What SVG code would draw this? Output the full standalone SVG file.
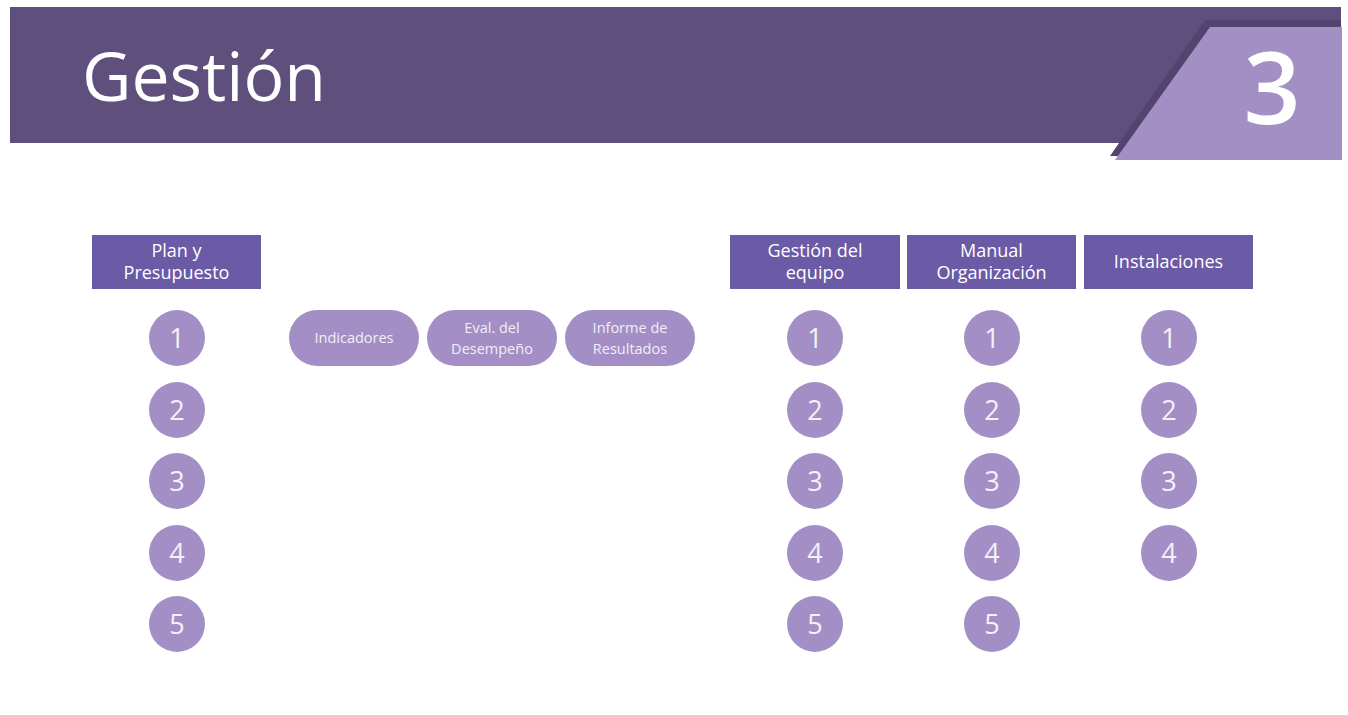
<svg xmlns="http://www.w3.org/2000/svg" width="1348" height="715" viewBox="0 0 1348 715">
<style>
text{font-family:"Open Sans","Noto Sans",sans-serif;fill:#fff;text-anchor:middle}
.hdr{fill:#6b5aa5}
.hdr-t{font-size:18px;font-weight:500}
.c{fill:#a38fc5}
.num{font-size:27px;fill:#f4f1f8}
.pill{fill:#a38fc5}
.pill-t{font-size:14.5px;font-weight:500;fill:#f1eef6}
</style>
<rect width="1348" height="715" fill="#fff"/>
<g id="banner">
<rect x="10" y="7" width="1331" height="136" fill="#5f4f7d"/>
<polygon points="1113,156 1122,143 1128,143 1120,156" fill="#d9d9d9"/>
<polygon points="1205,20 1341,20 1341,160 1110,156" fill="#52446e"/>
<polygon points="1210,27 1342,27 1342,160 1115,160" fill="#a28fc4"/>
<text x="204" y="101" style="font-size:68px">Gestión</text>
<text x="1272" y="124" style="font-size:100px;font-weight:600">3</text>
</g>
<g id="col-plan">
<rect class="hdr" x="92" y="235" width="169" height="54"/>
<text class="hdr-t" x="176.5" y="257">Plan y</text>
<text class="hdr-t" x="176.5" y="279">Presupuesto</text>
</g>
<g id="col-equipo">
<rect class="hdr" x="730" y="235" width="170" height="54"/>
<text class="hdr-t" x="815" y="257">Gestión del</text>
<text class="hdr-t" x="815" y="279">equipo</text>
</g>
<g id="col-manual">
<rect class="hdr" x="907" y="235" width="169" height="54"/>
<text class="hdr-t" x="991.5" y="257">Manual</text>
<text class="hdr-t" x="991.5" y="279">Organización</text>
</g>
<g id="col-inst">
<rect class="hdr" x="1084" y="235" width="169" height="54"/>
<text class="hdr-t" x="1168.5" y="268">Instalaciones</text>
</g>
<g id="pill-indicadores">
<rect class="pill" x="289" y="310" width="130" height="56" rx="28"/>
<text class="pill-t" x="354" y="343">Indicadores</text>
</g>
<g id="pill-eval">
<rect class="pill" x="427" y="310" width="130" height="56" rx="28"/>
<text class="pill-t" x="492" y="333">Eval. del</text>
<text class="pill-t" x="492" y="354">Desempeño</text>
</g>
<g id="pill-informe">
<rect class="pill" x="565" y="310" width="130" height="56" rx="28"/>
<text class="pill-t" x="630" y="333">Informe de</text>
<text class="pill-t" x="630" y="354">Resultados</text>
</g>
<g id="plan-circles">
<circle class="c" cx="177" cy="338" r="28"/><text class="num" x="177" y="348">1</text>
<circle class="c" cx="177" cy="410" r="28"/><text class="num" x="177" y="420">2</text>
<circle class="c" cx="177" cy="481" r="28"/><text class="num" x="177" y="491">3</text>
<circle class="c" cx="177" cy="553" r="28"/><text class="num" x="177" y="563">4</text>
<circle class="c" cx="177" cy="624" r="28"/><text class="num" x="177" y="634">5</text>
</g>
<g id="equipo-circles">
<circle class="c" cx="815" cy="338" r="28"/><text class="num" x="815" y="348">1</text>
<circle class="c" cx="815" cy="410" r="28"/><text class="num" x="815" y="420">2</text>
<circle class="c" cx="815" cy="481" r="28"/><text class="num" x="815" y="491">3</text>
<circle class="c" cx="815" cy="553" r="28"/><text class="num" x="815" y="563">4</text>
<circle class="c" cx="815" cy="624" r="28"/><text class="num" x="815" y="634">5</text>
</g>
<g id="manual-circles">
<circle class="c" cx="992" cy="338" r="28"/><text class="num" x="992" y="348">1</text>
<circle class="c" cx="992" cy="410" r="28"/><text class="num" x="992" y="420">2</text>
<circle class="c" cx="992" cy="481" r="28"/><text class="num" x="992" y="491">3</text>
<circle class="c" cx="992" cy="553" r="28"/><text class="num" x="992" y="563">4</text>
<circle class="c" cx="992" cy="624" r="28"/><text class="num" x="992" y="634">5</text>
</g>
<g id="inst-circles">
<circle class="c" cx="1169" cy="338" r="28"/><text class="num" x="1169" y="348">1</text>
<circle class="c" cx="1169" cy="410" r="28"/><text class="num" x="1169" y="420">2</text>
<circle class="c" cx="1169" cy="481" r="28"/><text class="num" x="1169" y="491">3</text>
<circle class="c" cx="1169" cy="553" r="28"/><text class="num" x="1169" y="563">4</text>
</g>
<g id="connectors"></g>
</svg>
